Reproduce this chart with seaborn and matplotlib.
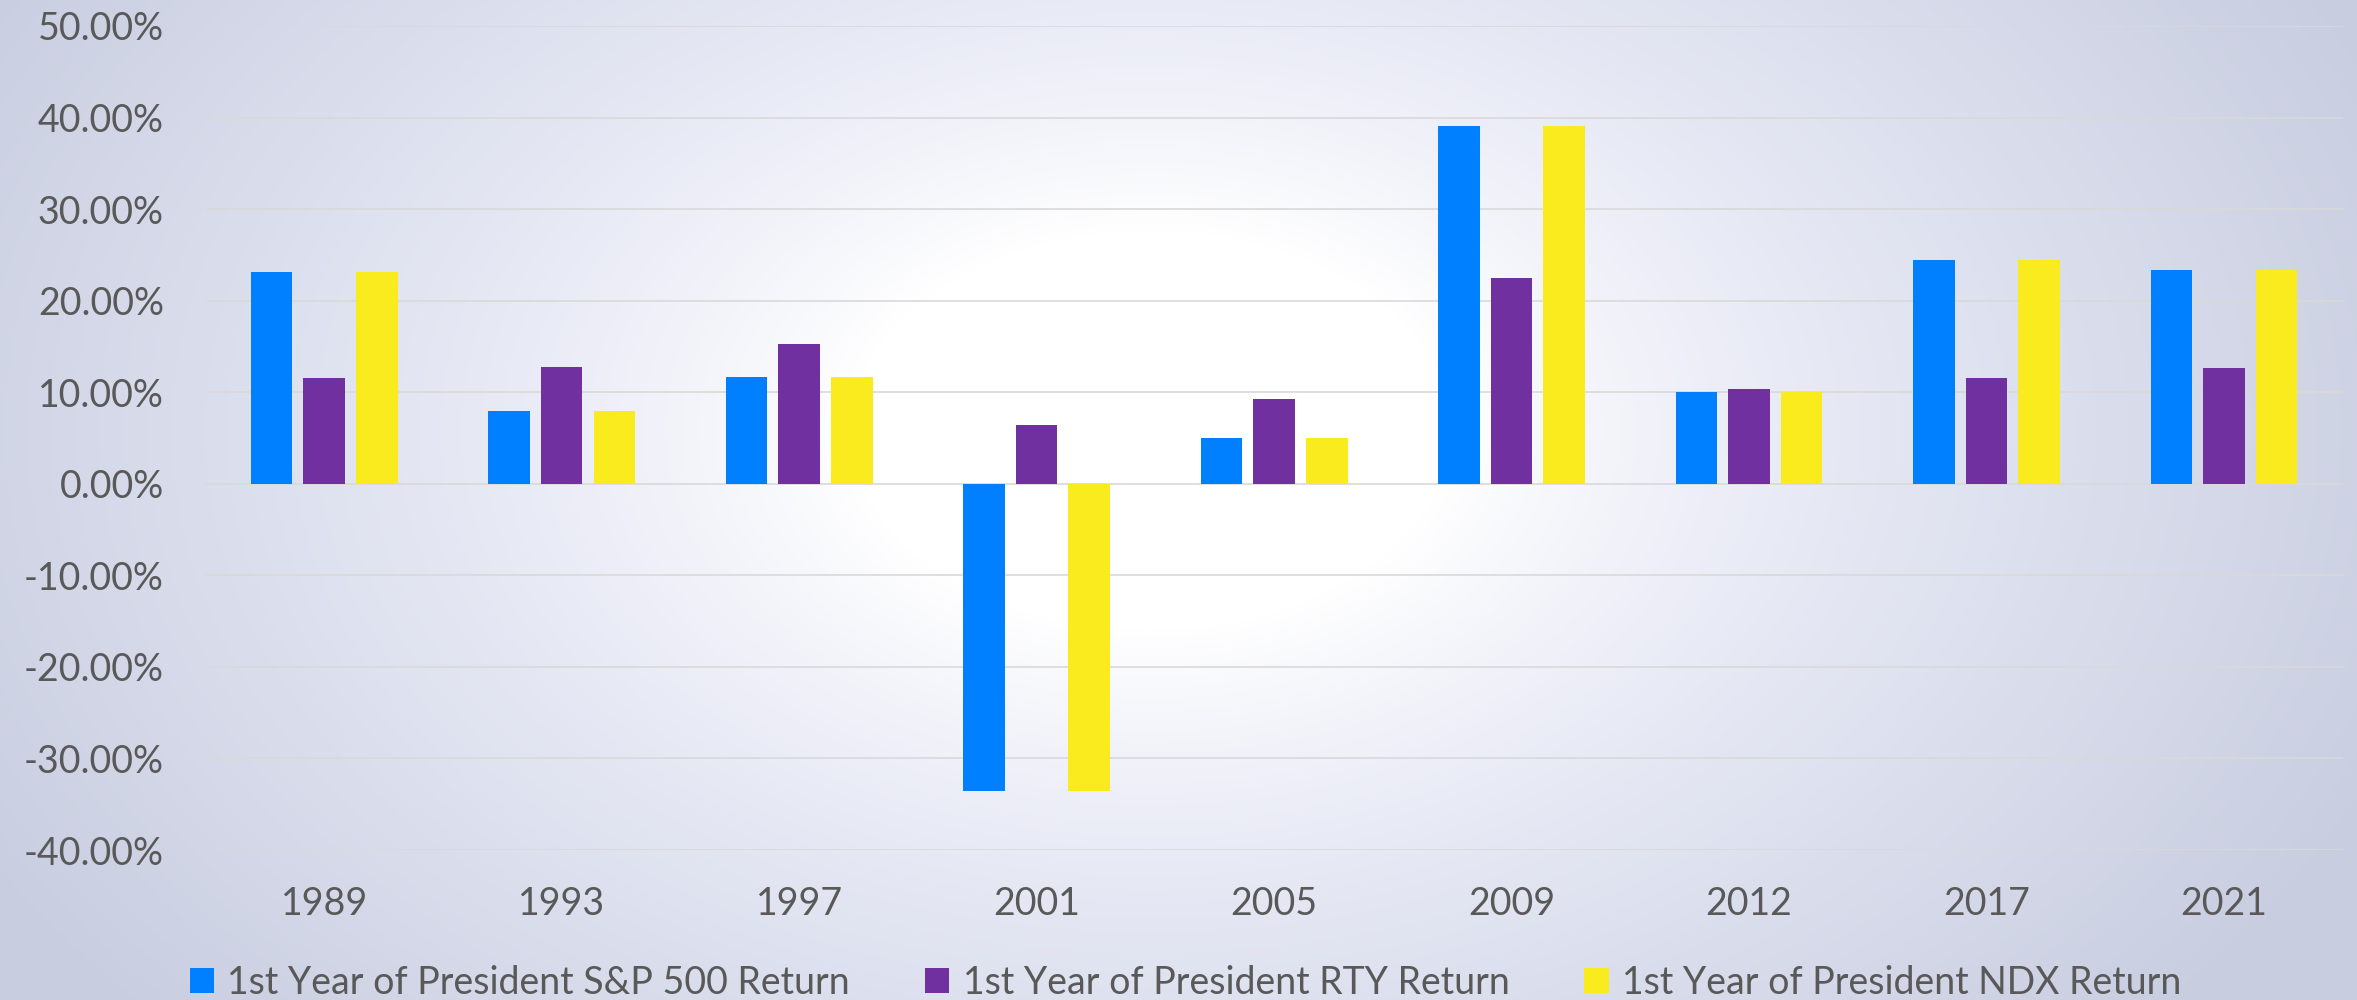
import numpy as np
import pandas as pd
import matplotlib
matplotlib.use("Agg")
import matplotlib.pyplot as plt
from matplotlib.ticker import PercentFormatter
from matplotlib.colors import to_rgb
import seaborn as sns

years = ["1989", "1993", "1997", "2001", "2005", "2009", "2012", "2017", "2021"]
spx_return = [23.1, 8.0, 11.7, -33.6, 5.0, 39.1, 10.0, 24.4, 23.4]
rty_return = [11.6, 12.8, 15.3, 6.4, 9.3, 22.5, 10.4, 11.6, 12.7]
ndx_return = [23.1, 8.0, 11.7, -33.6, 5.0, 39.1, 10.0, 24.4, 23.4]
series_names = [
    "1st Year of President S&P 500 Return",
    "1st Year of President RTY Return",
    "1st Year of President NDX Return",
]
colors = ["#007FFF", "#7030A0", "#FAEB1E"]

df = pd.DataFrame({"Year": years * 3,
                   "Return": spx_return + rty_return + ndx_return,
                   "Series": np.repeat(series_names, len(years))})

sns.set_theme(style="white")
plt.rcParams["font.family"] = ["Lato", "DejaVu Sans"]
plt.rcParams["axes.unicode_minus"] = False
text_color = "#595959"

fig = plt.figure(figsize=(23.57, 10), dpi=100)

# radial gradient background
W, H = 2357, 1000
xx, yy = np.meshgrid(np.arange(W), np.arange(H))
d = np.sqrt((xx - 1150.0) ** 2 + ((yy - 430.0) * 1.5) ** 2)
t = np.clip((d - 300) / 1050, 0, 1) ** 0.9
mid = np.array(to_rgb("#E9EBF6"))
edge = np.array(to_rgb("#C8CDE0"))
white = np.ones(3)
t3 = t[..., None]
img = np.where(t3 < 0.35,
               white + (mid - white) * (t3 / 0.35),
               mid + (edge - mid) * ((t3 - 0.35) / 0.65))
bg = fig.add_axes([0, 0, 1, 1], zorder=-1)
bg.imshow(img, aspect="auto", extent=[0, 1, 0, 1])
bg.axis("off")

ax = fig.add_axes([205.5 / W, 0.15, (2342.7 - 205.5) / W, 0.824])
ax.set_facecolor("none")

sns.barplot(data=df, x="Year", y="Return", hue="Series", palette=colors,
            width=0.665, gap=0.21, saturation=1, ax=ax, zorder=3,
            edgecolor="none", linewidth=0)

ax.set_ylim(-40, 50)
ax.set_yticks(np.arange(-40, 51, 10))
ax.yaxis.set_major_formatter(PercentFormatter(decimals=2))
ax.grid(axis="y", color="#D9D9D9", linewidth=1.2, zorder=0)
ax.set_axisbelow(True)
for s in ax.spines.values():
    s.set_visible(False)
ax.set_xlabel("")
ax.set_ylabel("")
ax.tick_params(axis="y", length=0, pad=30, labelsize=27, labelcolor=text_color)
ax.tick_params(axis="x", length=0, pad=26, labelsize=27, labelcolor=text_color)

handles, labels = ax.get_legend_handles_labels()
ax.get_legend().remove()
fig.legend(handles, labels, loc="center", bbox_to_anchor=(0.503, 0.017),
           ncol=3, frameon=False, fontsize=27, labelcolor=text_color,
           handlelength=0.65, handleheight=0.65, handletextpad=0.35,
           columnspacing=2.0)

fig.savefig("out.png", dpi=100)
